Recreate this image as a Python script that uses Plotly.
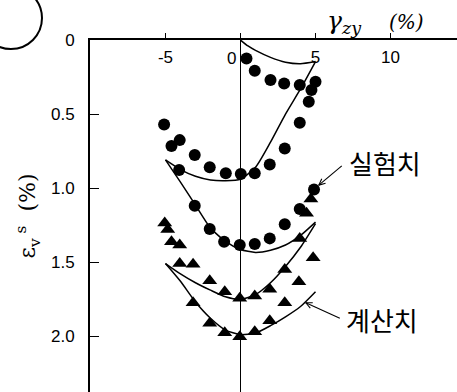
import math
import plotly.graph_objects as go

# measured volumetric strain points (circles: first test, triangles: second test)
circle_x = [0.40, 0.95, 2.0, 2.91, 3.95, 5.0, 4.73, 4.55, 3.95, 2.95, 1.95, 0.95, 0.02,
            -0.98, -2.05, -3.05, -4.05, -4.6, -5.09, -4.09, -3.05, -2.05, -1.09, -0.05,
            0.95, 1.95, 2.95, 3.95, 4.9]
circle_y = [0.124, 0.207, 0.27, 0.293, 0.304, 0.282, 0.338, 0.417, 0.559, 0.732, 0.84, 0.90, 0.905,
            0.90, 0.86, 0.777, 0.676, 0.716, 0.57, 0.878, 1.12, 1.277, 1.363, 1.385,
            1.378, 1.34, 1.245, 1.142, 1.009]

tri_x = [-5.05, -4.85, -4.6, -4.05, -4.05, -3.16, -2.05, -1.05, -0.05, 0.95, 1.95, 2.95,
         3.95, 4.69, 4.4, 4.84, 3.89, 2.95, 1.95, 0.95, -0.05, -1.05, -2.05, -3.16]
tri_y = [1.236, 1.28, 1.363, 1.385, 1.509, 1.514, 1.626, 1.70, 1.745, 1.73, 1.684, 1.55,
         1.34, 1.074, 1.171, 1.471, 1.633, 1.775, 1.897, 1.971, 2.005, 1.978, 1.914, 1.775]

# computed curves
calc_a_x = [0, 0.5, 1, 2, 3, 4, 5]
calc_a_y = [0.0, 0.04, 0.07, 0.117, 0.150, 0.160, 0.145]

calc_b_x = [-5, -4, -3, -2, -1, 0, 1, 2, 3, 4, 5]
calc_b_y = [0.81, 0.875, 0.92, 0.945, 0.95, 0.94, 0.86, 0.69, 0.50, 0.33, 0.145]

calc_c_x = [-5, -4, -3, -2, -1, 0, 1, 2, 3, 4, 5]
calc_c_y = [0.81, 0.96, 1.115, 1.27, 1.36, 1.415, 1.435, 1.42, 1.385, 1.32, 1.23]

calc_d_x = [-5, -4, -3, -2, -1, 0, 1, 2, 3, 4, 5]
calc_d_y = [1.51, 1.58, 1.64, 1.69, 1.735, 1.752, 1.72, 1.64, 1.53, 1.40, 1.24]

calc_e_x = [-5, -4, -3, -2, -1, 0, 1, 2, 3, 4, 5]
calc_e_y = [1.51, 1.63, 1.77, 1.88, 1.96, 1.99, 1.98, 1.93, 1.87, 1.80, 1.70]

x_ticks = [-5, 0, 5, 10]
# labels for the non-zero ticks; the origin label sits beside the zero line
x_label_ticks = [-5, 5, 10]
x_label_text = ["-5", "5", "10"]
y_ticks = [0, 0.5, 1.0, 1.5, 2.0]
y_tick_text = ["0", "0.5", "1.0", "1.5", "2.0"]

X_RANGE = [-10.03, 14.43]
Y_RANGE = [2.378, -0.0005]

fig = go.Figure()

for cx, cy in [(calc_a_x, calc_a_y), (calc_b_x, calc_b_y), (calc_c_x, calc_c_y),
               (calc_d_x, calc_d_y), (calc_e_x, calc_e_y)]:
    fig.add_trace(go.Scatter(x=cx, y=cy, mode="lines",
                             line=dict(color="black", width=1.5, shape="spline", smoothing=0.6),
                             showlegend=False, hoverinfo="skip"))

fig.add_trace(go.Scatter(x=circle_x, y=circle_y, mode="markers",
                         marker=dict(symbol="circle", size=12, color="black"), showlegend=False))
fig.add_trace(go.Scatter(x=tri_x, y=tri_y, mode="markers",
                         marker=dict(symbol="triangle-up", size=13, color="black"), showlegend=False))
# empty trace that carries the label axis along the top edge
fig.add_trace(go.Scatter(x=[None], y=[None], xaxis="x2", yaxis="y", showlegend=False,
                         hoverinfo="skip"))

axis_font = dict(family="Liberation Sans, Arial, sans-serif", size=17, color="black")

fig.update_layout(
    width=457, height=392,
    margin=dict(l=90, r=0, t=40, b=0),
    paper_bgcolor="white", plot_bgcolor="white",
    xaxis=dict(range=X_RANGE, side="top", showline=True, linewidth=2, linecolor="black",
               ticks="outside", ticklen=5, tickwidth=1.2, tickcolor="black",
               tickvals=x_ticks, showticklabels=False,
               showgrid=False, zeroline=True, zerolinecolor="black", zerolinewidth=1.3),
    xaxis2=dict(range=X_RANGE, matches="x", overlaying="x", anchor="free", position=1.0,
                side="bottom", showline=False, ticks="", tickvals=x_label_ticks,
                ticktext=x_label_text, tickfont=axis_font, ticklabelstandoff=5,
                showgrid=False, zeroline=False),
    yaxis=dict(range=Y_RANGE, showline=True, linewidth=2, linecolor="black",
               ticks="inside", ticklen=9, tickwidth=1.2, tickcolor="black",
               tickvals=y_ticks, ticktext=y_tick_text, tickfont=axis_font, ticklabelstandoff=10,
               showgrid=False, zeroline=False,
               title=dict(text="ε<sub>v</sub><sup> s</sup>  (%)",
                          font=dict(family="DejaVu Serif, serif", size=22, color="black"),
                          standoff=9)),
)

# origin label of the shear-strain axis, just left of the zero line
fig.add_annotation(x=0, xref="x", y=1, yref="paper", xanchor="right", yanchor="top",
                   xshift=-2, yshift=-7, text="0", showarrow=False, font=axis_font)

# x-axis title
fig.add_annotation(xref="paper", yref="paper", x=0.64, y=1.0, xanchor="left", yanchor="bottom",
                   text="<i>γ<sub>zy</sub></i>", showarrow=False,
                   font=dict(family="DejaVu Serif, serif", size=25, color="black"))
fig.add_annotation(xref="paper", yref="paper", x=0.81, y=1.01, xanchor="left", yanchor="bottom",
                   text="<i>(%)</i>", showarrow=False,
                   font=dict(family="DejaVu Serif, serif", size=20, color="black"))

# leader lines with open arrowheads (drawn in data space, barbs sized in pixels)
SX = 367.0 / (X_RANGE[1] - X_RANGE[0])
SY = 352.0 / (Y_RANGE[0] - Y_RANGE[1])


def leader(tip, tail, barb=7.0, spread=25.0):
    fig.add_shape(type="line", xref="x", yref="y", x0=tail[0], y0=tail[1], x1=tip[0], y1=tip[1],
                  line=dict(color="black", width=1.1))
    dx = (tail[0] - tip[0]) * SX
    dy = (tail[1] - tip[1]) * SY
    n = math.hypot(dx, dy)
    ux, uy = dx / n, dy / n
    for s in (spread, -spread):
        a = math.radians(s)
        rx = ux * math.cos(a) - uy * math.sin(a)
        ry = ux * math.sin(a) + uy * math.cos(a)
        fig.add_shape(type="line", xref="x", yref="y", x0=tip[0], y0=tip[1],
                      x1=tip[0] + rx * barb / SX, y1=tip[1] + ry * barb / SY,
                      line=dict(color="black", width=1.1))


leader(tip=(5.22, 0.98), tail=(6.75, 0.85))
leader(tip=(4.35, 1.775), tail=(6.62, 1.88))

korean_font = dict(family="Noto Sans CJK KR", size=26, color="black")
fig.add_annotation(x=9.62, y=0.824, xref="x", yref="y", text="실험치", showarrow=False, font=korean_font)
fig.add_annotation(x=9.4, y=1.89, xref="x", yref="y", text="계산치", showarrow=False, font=korean_font)

# partial circle in the upper-left corner
pw, ph = 367.0, 352.0


def px(v):
    return (v - 90) / pw


def py(v):
    return (392 - v) / ph


fig.add_shape(type="circle", xref="paper", yref="paper",
              x0=px(11 - 31), x1=px(11 + 31), y0=py(18 + 31), y1=py(18 - 31),
              line=dict(color="black", width=2))

fig.write_html("out.html")
